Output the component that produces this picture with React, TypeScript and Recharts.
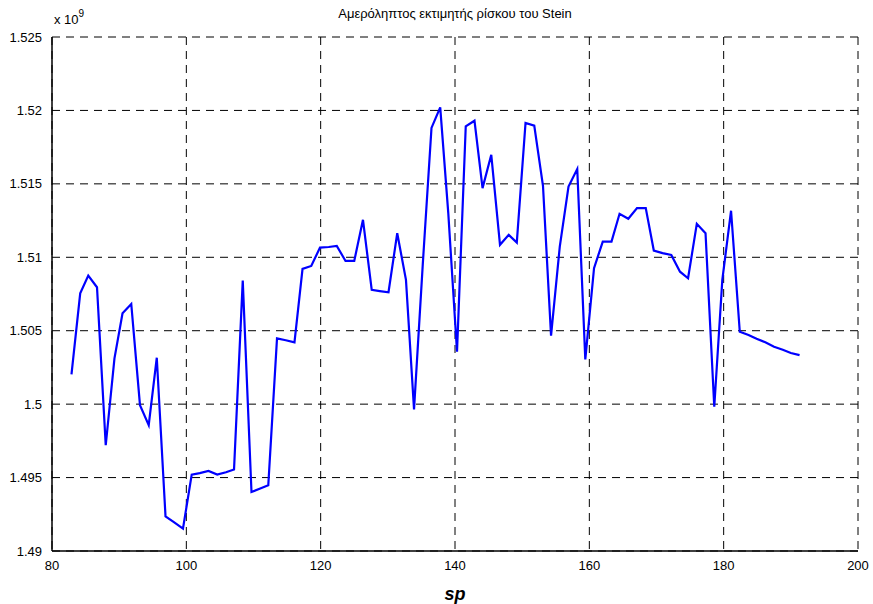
import { CartesianGrid, Line, LineChart, XAxis, YAxis } from "recharts";

// sp values (x)
const sp = [
  82.9, 84.2, 85.4, 86.7, 88.0, 89.3, 90.5, 91.8, 93.1, 94.4,
  95.6, 96.9, 98.2, 99.5, 100.8, 102.0, 103.3, 104.6, 105.9, 107.1,
  108.4, 109.7, 111.0, 112.2, 113.5, 114.8, 116.1, 117.3, 118.6, 119.9,
  121.2, 122.4, 123.7, 125.0, 126.3, 127.6, 128.8, 130.1, 131.4, 132.7,
  133.9, 135.2, 136.5, 137.8, 139.0, 140.3, 141.6, 142.9, 144.1, 145.4,
  146.7, 148.0, 149.2, 150.5, 151.8, 153.1, 154.3, 155.6, 156.9, 158.2,
  159.4, 160.7, 162.0, 163.3, 164.5, 165.8, 167.1, 168.4, 169.6, 170.9,
  172.2, 173.5, 174.7, 176.0, 177.3, 178.6, 179.8, 181.1, 182.4, 183.7,
  184.9, 186.2, 187.5, 188.8, 190.0, 191.3,
];

// risk estimate, in units of 1e9
const risk = [
  1.50203, 1.50755, 1.50875, 1.50796, 1.4972, 1.50312, 1.50619, 1.50682, 1.49993, 1.49857,
  1.50316, 1.49236, 1.49195, 1.49152, 1.4952, 1.4953, 1.49545, 1.4952, 1.49536, 1.49555,
  1.50841, 1.49402, 1.49425, 1.49447, 1.50448, 1.50435, 1.50421, 1.50921, 1.50941, 1.51066,
  1.5107, 1.51078, 1.50975, 1.50975, 1.51255, 1.50778, 1.5077, 1.50762, 1.51164, 1.50846,
  1.49964, 1.5095, 1.51881, 1.52021, 1.51301, 1.50357, 1.51892, 1.5193, 1.51471, 1.51698,
  1.51085, 1.51153, 1.511, 1.51915, 1.51896, 1.51487, 1.50466, 1.51073, 1.51482, 1.51601,
  1.50305, 1.50926, 1.51107, 1.51107, 1.51296, 1.51262, 1.51335, 1.51335, 1.51046, 1.51028,
  1.51016, 1.50902, 1.50857, 1.51228, 1.51164, 1.49982, 1.50846, 1.51317, 1.50493, 1.50471,
  1.50445, 1.50421, 1.50391, 1.5037, 1.50348, 1.50334,
];

const xTicks = [80, 100, 120, 140, 160, 180, 200];
const yTicks = [1.49, 1.495, 1.5, 1.505, 1.51, 1.515, 1.52, 1.525];
const yLabels = ["1.49", "1.495", "1.5", "1.505", "1.51", "1.515", "1.52", "1.525"];

const data = sp.map((x, i) => ({ sp: x, risk: risk[i] }));

const FONT = "'Liberation Sans', Arial, sans-serif";
const tick = { fontSize: 13, fill: "#000", fontFamily: FONT };

export default function App() {
  return (
    <div style={{ position: "absolute", left: 0, top: 0, width: 873, height: 604, background: "#fff", fontFamily: FONT }}>
      <div style={{ position: "absolute", left: 0, width: 910, top: 6, textAlign: "center", fontSize: 13, color: "#000" }}>
        Αμερόληπτος εκτιμητής ρίσκου του Stein
      </div>
      <div style={{ position: "absolute", left: 54, top: 10, fontSize: 13, color: "#000" }}>
        x 10<sup style={{ fontSize: 10, position: "relative", top: -2 }}>9</sup>
      </div>
      <LineChart width={873} height={604} data={data} margin={{ top: 37, right: 15, bottom: 0, left: 0 }}>
        <CartesianGrid stroke="#000" strokeDasharray="8 6" strokeWidth={1} />
        <XAxis
          dataKey="sp"
          type="number"
          domain={[80, 200]}
          ticks={xTicks}
          height={53}
          tick={tick}
          tickLine={false}
          tickMargin={4}
          axisLine={{ stroke: "#000", strokeWidth: 1.5 }}
          label={{ value: "sp", position: "insideBottom", offset: 4, style: { fontSize: 18, fontWeight: "bold", fontStyle: "italic", fill: "#000", fontFamily: FONT } }}
        />
        <XAxis xAxisId="top" orientation="top" type="number" domain={[80, 200]} ticks={xTicks} height={0} tick={false} tickLine={false} axisLine={{ stroke: "#000", strokeWidth: 1.5 }} />
        <YAxis
          type="number"
          domain={[1.49, 1.525]}
          ticks={yTicks}
          width={52}
          tick={tick}
          tickLine={false}
          tickMargin={4}
          tickFormatter={(v) => yLabels[yTicks.indexOf(v as number)] ?? String(v)}
          axisLine={{ stroke: "#000", strokeWidth: 1.5 }}
        />
        <YAxis yAxisId="right" orientation="right" type="number" domain={[1.49, 1.525]} ticks={yTicks} width={0} tick={false} tickLine={false} axisLine={{ stroke: "#000", strokeWidth: 1.5 }} />
        <Line dataKey="risk" stroke="#0000ff" strokeWidth={2.2} dot={false} isAnimationActive={false} />
      </LineChart>
    </div>
  );
}
